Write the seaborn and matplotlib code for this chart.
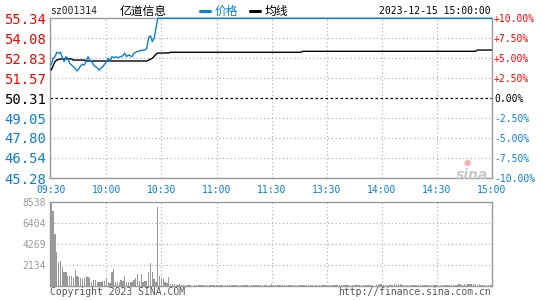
import matplotlib
matplotlib.use("Agg")
import matplotlib.pyplot as plt
import seaborn as sns
import pandas as pd

# ---------------- data ----------------
stock_code = "sz001314"
stock_name = "亿道信息"
timestamp = "2023-12-15 15:00:00"
prev_close = 50.31
price_ticks = [45.28, 46.54, 47.80, 49.05, 50.31, 51.57, 52.83, 54.08, 55.34]
price_labels = ["45.28", "46.54", "47.80", "49.05", "50.31", "51.57", "52.83", "54.08", "55.34"]
pct_labels = ["-10.00%", "-7.50%", "-5.00%", "-2.50%", "0.00%", "+2.50%", "+5.00%", "+7.50%", "+10.00%"]
time_ticks = [0, 30, 60, 90, 120, 150, 180, 210, 240]
time_labels = ["09:30", "10:00", "10:30", "11:00", "11:30", "13:30", "14:00", "14:30", "15:00"]
vol_ticks = [2134, 4269, 6404, 8538]
vol_labels = ["2134", "4269", "6404", "8538"]

price_minutes = [0, 1, 2, 3, 4, 5, 6, 7, 8, 9,
                 10, 11, 12, 13, 14, 15, 16, 17, 18, 19,
                 20, 21, 22, 23, 24, 25, 26, 27, 28, 29,
                 30, 31, 32, 33, 34, 35, 36, 37, 38, 39,
                 40, 41, 42, 43, 44, 45, 46, 47, 48, 49,
                 50, 51, 52, 53, 54, 55, 56, 57, 58, 240]
price_values = [52.40, 52.82, 52.92, 53.20, 53.14, 53.20, 52.86, 52.61, 52.92, 52.82,
                52.51, 52.40, 52.29, 52.19, 52.02, 52.15, 52.35, 52.44, 52.40, 52.61,
                52.92, 52.71, 52.61, 52.40, 52.29, 52.23, 52.08, 52.19, 52.29, 52.44,
                52.61, 52.82, 52.65, 52.92, 52.86, 52.92, 52.86, 52.90, 52.92, 52.98,
                53.14, 52.92, 53.03, 52.98, 52.92, 53.14, 53.20, 53.25, 53.28, 53.32,
                53.34, 53.34, 53.45, 54.12, 54.24, 53.87, 54.08, 54.71, 55.34, 55.34]

avg_minutes = [0, 1, 2, 3, 5, 11, 12, 18, 19, 52, 55, 57, 58, 64, 65, 136, 137, 231, 232, 240]
avg_values = [52.08, 52.35, 52.61, 52.71, 52.78, 52.78, 52.71, 52.71, 52.65, 52.65,
              52.82, 53.07, 53.15, 53.16, 53.20, 53.20, 53.26, 53.26, 53.34, 53.34]

volume = [8538, 7594, 5333, 3409, 2396, 2531, 1890, 1384, 1384, 1046,
          1046, 1046, 844, 1586, 1046, 945, 776, 709, 776, 1046,
          945, 844, 439, 574, 574, 439, 439, 439, 540, 540,
          776, 439, 338, 1451, 1688, 439, 439, 270, 574, 506,
          1046, 439, 439, 439, 439, 608, 844, 1181, 506, 1181,
          439, 506, 506, 1451, 2295, 1451, 675, 439, 8066, 1046,
          675, 675, 440, 340, 915, 240, 240, 170, 100, 100,
          200, 100, 100, 130, 100, 100, 100, 0, 100, 100,
          100, 100, 100, 100, 100, 100, 100, 100, 130, 100,
          100, 100, 100, 100, 0, 100, 100, 100, 100, 100,
          100, 100, 100, 100, 100, 100, 100, 100, 100, 100,
          100, 100, 100, 100, 100, 100, 100, 100, 0, 100,
          170, 100, 100, 100, 100, 100, 100, 100, 100, 100,
          100, 100, 100, 100, 100, 100, 100, 100, 100, 100,
          100, 100, 100, 0, 100, 100, 100, 100, 100, 100,
          100, 100, 100, 100, 100, 100, 100, 100, 100, 100,
          100, 100, 100, 0, 100, 100, 100, 100, 100, 100,
          100, 100, 100, 100, 100, 100, 0, 100, 100, 250,
          200, 100, 100, 100, 100, 100, 100, 170, 100, 200,
          170, 100, 100, 100, 100, 100, 100, 100, 100, 100,
          100, 100, 100, 100, 100, 100, 100, 100, 100, 100,
          100, 0, 100, 100, 100, 100, 100, 100, 100, 100,
          100, 100, 250, 170, 100, 200, 130, 170, 250, 200,
          250, 170, 100, 200, 100, 100, 100, 100, 100, 100, 100]
vol_minutes = list(range(len(volume)))

# ---------------- style ----------------
sns.set_theme(style="white")
plt.rcParams['font.family'] = ['DejaVu Sans Mono', 'Noto Sans CJK SC']

RED = "#ff0000"
BLUE = "#0a7fd6"
GRAY = "#999999"
GRID = "#b4b4b4"
MONO = "DejaVu Sans Mono"
CJK = ['Noto Sans CJK SC', 'DejaVu Sans']

W, H = 545, 300
fig = plt.figure(figsize=(W / 100, H / 100), dpi=100)
fig.patch.set_facecolor("white")

def fr(x0, y0, x1, y1):
    return [x0 / W, 1 - y1 / H, (x1 - x0) / W, (y1 - y0) / H]

ax = fig.add_axes(fr(50, 18.3, 492, 178))
axv = fig.add_axes(fr(50, 202, 492, 286))

price_df = pd.DataFrame({"minute": price_minutes, "price": price_values})
avg_df = pd.DataFrame({"minute": avg_minutes, "avg": avg_values})

# grid
for t in time_ticks[1:-1]:
    for a in (ax, axv):
        a.axvline(t, color=GRID, lw=0.9, ls=(0, (1, 2)), zorder=1)
for p in price_ticks[1:-1]:
    if abs(p - prev_close) < 1e-6:
        ax.axhline(p, color="black", lw=0.9, ls=(0, (2, 2)), zorder=1)
    else:
        ax.axhline(p, color=GRID, lw=0.9, ls=(0, (1, 2)), zorder=1)
for v in vol_ticks[:-1]:
    axv.axhline(v, color=GRID, lw=0.9, ls=(0, (1, 2)), zorder=1)

sns.lineplot(data=avg_df, x="minute", y="avg", ax=ax, color="black", lw=1.0, zorder=3)
sns.lineplot(data=price_df, x="minute", y="price", ax=ax, color=BLUE, lw=1.0, zorder=4,
             clip_on=False)

axv.bar(vol_minutes, volume, width=0.7, color=GRAY, linewidth=0, zorder=2)

for a in (ax, axv):
    a.set_xlim(-0.7, 240)
    a.set_xlabel("")
    a.set_ylabel("")
    for s in a.spines.values():
        s.set_color(GRAY)
        s.set_linewidth(1.0)
    a.tick_params(length=0)

ax.set_ylim(price_ticks[0], price_ticks[-1])
ax.set_yticks(price_ticks)
ax.set_yticklabels(price_labels, fontfamily=MONO, fontsize=10)
ax.tick_params(axis="y", pad=3)
for lbl, p in zip(ax.get_yticklabels(), price_ticks):
    lbl.set_color(RED if p > prev_close + 1e-6 else ("black" if abs(p - prev_close) < 1e-6 else BLUE))

ax.set_xticks(time_ticks)
ax.set_xticklabels(time_labels, fontfamily=MONO, fontsize=7, color=BLUE)
ax.tick_params(axis="x", pad=5)

axr = ax.twinx()
axr.set_ylim(price_ticks[0], price_ticks[-1])
axr.set_yticks(price_ticks)
axr.set_yticklabels(pct_labels, fontfamily=MONO, fontsize=7)
axr.tick_params(length=0, pad=1.5)
for s in axr.spines.values():
    s.set_visible(False)
for lbl, p in zip(axr.get_yticklabels(), price_ticks):
    lbl.set_color(RED if p > prev_close + 1e-6 else ("black" if abs(p - prev_close) < 1e-6 else BLUE))

axv.set_ylim(0, vol_ticks[-1])
axv.set_yticks(vol_ticks)
axv.set_yticklabels(vol_labels, fontfamily=MONO, fontsize=7, color=GRAY)
axv.tick_params(axis="y", pad=3)
axv.set_xticks([])

# header
fy = 1 - 11 / H
fig.text(50 / W, fy, stock_code, fontfamily=MONO, fontsize=7, color="#222222", va="center", ha="left")
fig.text(120 / W, fy, stock_name, family=CJK, fontsize=8.5, color="black", va="center", ha="left")
fig.add_artist(plt.Line2D([200 / W, 210 / W], [fy, fy], color=BLUE, lw=2.2))
fig.text(215 / W, fy, "价格", family=CJK, fontsize=8.5, color=BLUE, va="center", ha="left")
fig.add_artist(plt.Line2D([250 / W, 260 / W], [fy, fy], color="black", lw=2.2))
fig.text(265 / W, fy, "均线", family=CJK, fontsize=8.5, color="black", va="center", ha="left")
fig.text(491 / W, fy, timestamp, fontfamily=MONO, fontsize=7, color="black", va="center", ha="right")

# footer
by = 1 - 292 / H
fig.text(50 / W, by, "Copyright 2023 SINA.COM", fontfamily=MONO, fontsize=7, color="#555555",
         va="center", ha="left")
fig.text(491 / W, by, "http://finance.sina.com.cn", fontfamily=MONO, fontsize=7, color="#555555",
         va="center", ha="right")

# watermark
fig.text(472 / W, 1 - 175 / H, "sina", fontfamily="DejaVu Sans", fontsize=10, fontweight="bold",
         fontstyle="italic", color="#c8c8c8", ha="center", va="center")
fig.text(467 / W, 1 - 163 / H, "●", fontfamily="DejaVu Sans", fontsize=6,
         color="#f4b0b0", ha="center", va="center")

fig.savefig("out.png", dpi=100)
